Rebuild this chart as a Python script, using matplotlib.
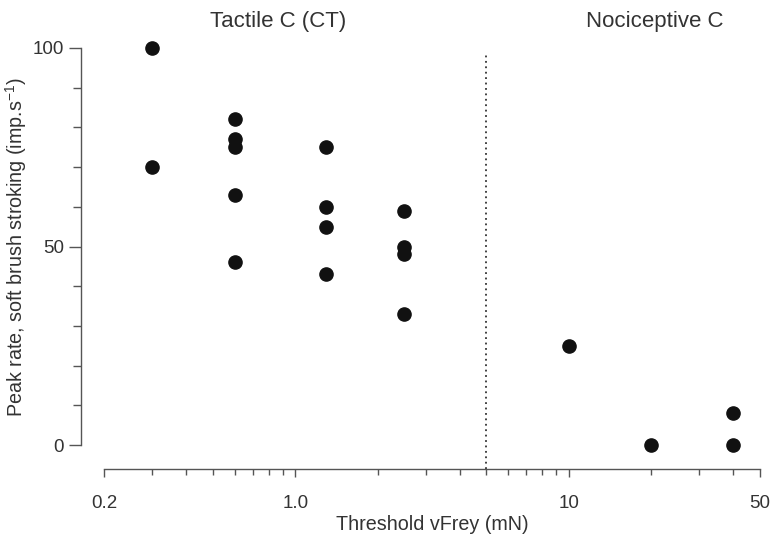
import matplotlib
matplotlib.use("Agg")
import matplotlib.pyplot as plt
from matplotlib.ticker import FixedLocator, NullFormatter

plt.rcParams["font.family"] = ["Liberation Sans", "DejaVu Sans"]

# threshold (mN) and peak firing rate (imp/s) per unit
tactile_x = [0.3, 0.3, 0.6, 0.6, 0.6, 0.6, 0.6, 1.3, 1.3, 1.3, 1.3, 2.5, 2.5, 2.5, 2.5]
tactile_y = [100, 70, 82, 77, 75, 63, 46, 75, 60, 55, 43, 59, 50, 48, 33]
noci_x = [10, 20, 40, 40]
noci_y = [25, 0, 8, 0]
boundary = 5

x_major = [0.2, 1.0, 10, 50]
x_major_labels = ["0.2", "1.0", "10", "50"]
x_minor = [0.3, 0.4, 0.5, 0.6, 0.7, 0.8, 0.9, 2, 3, 4, 5, 6, 7, 8, 9, 20, 30, 40]
y_major = [0, 50, 100]
y_minor = [10, 20, 30, 40, 60, 70, 80, 90]

text_c = "#333333"
axis_c = "#555555"
px = 72 / 100  # points per pixel

fig = plt.figure(figsize=(7.74, 5.36), dpi=100)
ax = fig.add_axes([104 / 774, 1 - 445 / 536, (760 - 104) / 774, (445 - 48) / 536])

ax.plot(tactile_x, tactile_y, "o", color="#111111", markersize=9.5, clip_on=False, zorder=3)
ax.plot(noci_x, noci_y, "o", color="#111111", markersize=9.5, clip_on=False, zorder=3)
ax.axvline(boundary, ymin=-0.06, ymax=0.99, color="#333333", linestyle=(0, (1, 2)),
           linewidth=1.3, clip_on=False)

ax.set_xscale("log")
ax.set_xlim(0.2, 50)
ax.set_ylim(0, 100)

ax.xaxis.set_major_locator(FixedLocator(x_major))
ax.set_xticklabels(x_major_labels)
ax.xaxis.set_minor_locator(FixedLocator(x_minor))
ax.xaxis.set_minor_formatter(NullFormatter())
ax.yaxis.set_major_locator(FixedLocator(y_major))
ax.yaxis.set_minor_locator(FixedLocator(y_minor))

for s in ["top", "right"]:
    ax.spines[s].set_visible(False)
ax.spines["left"].set_position(("outward", 23 * px))
ax.spines["bottom"].set_position(("outward", 24 * px))
for s in ["left", "bottom"]:
    ax.spines[s].set_color(axis_c)
    ax.spines[s].set_linewidth(1.4 * px)

ax.tick_params(axis="y", which="major", length=12 * px, width=1.4 * px, color=axis_c,
               labelsize=13.5, labelcolor=text_c, pad=5 * px)
ax.tick_params(axis="y", which="minor", length=8 * px, width=1.4 * px, color=axis_c)
ax.tick_params(axis="x", which="major", length=8 * px, width=1.4 * px, color=axis_c,
               labelsize=13.5, labelcolor=text_c, pad=18 * px)
ax.tick_params(axis="x", which="minor", length=6 * px, width=1.4 * px, color=axis_c)

ax.set_xlabel("Threshold vFrey (mN)", fontsize=14.2, color=text_c, labelpad=3 * px)
ax.set_ylabel(r"Peak rate, soft brush stroking (imp.s$^{\mathregular{-1}}$)",
              fontsize=14.2, color=text_c, labelpad=4 * px)

fig.text(278 / 774, 1 - 22 / 536, "Tactile C (CT)", ha="center", va="center",
         fontsize=16, color=text_c)
fig.text(655 / 774, 1 - 22 / 536, "Nociceptive C", ha="center", va="center",
         fontsize=16, color=text_c)

fig.savefig("out.png", dpi=100)
